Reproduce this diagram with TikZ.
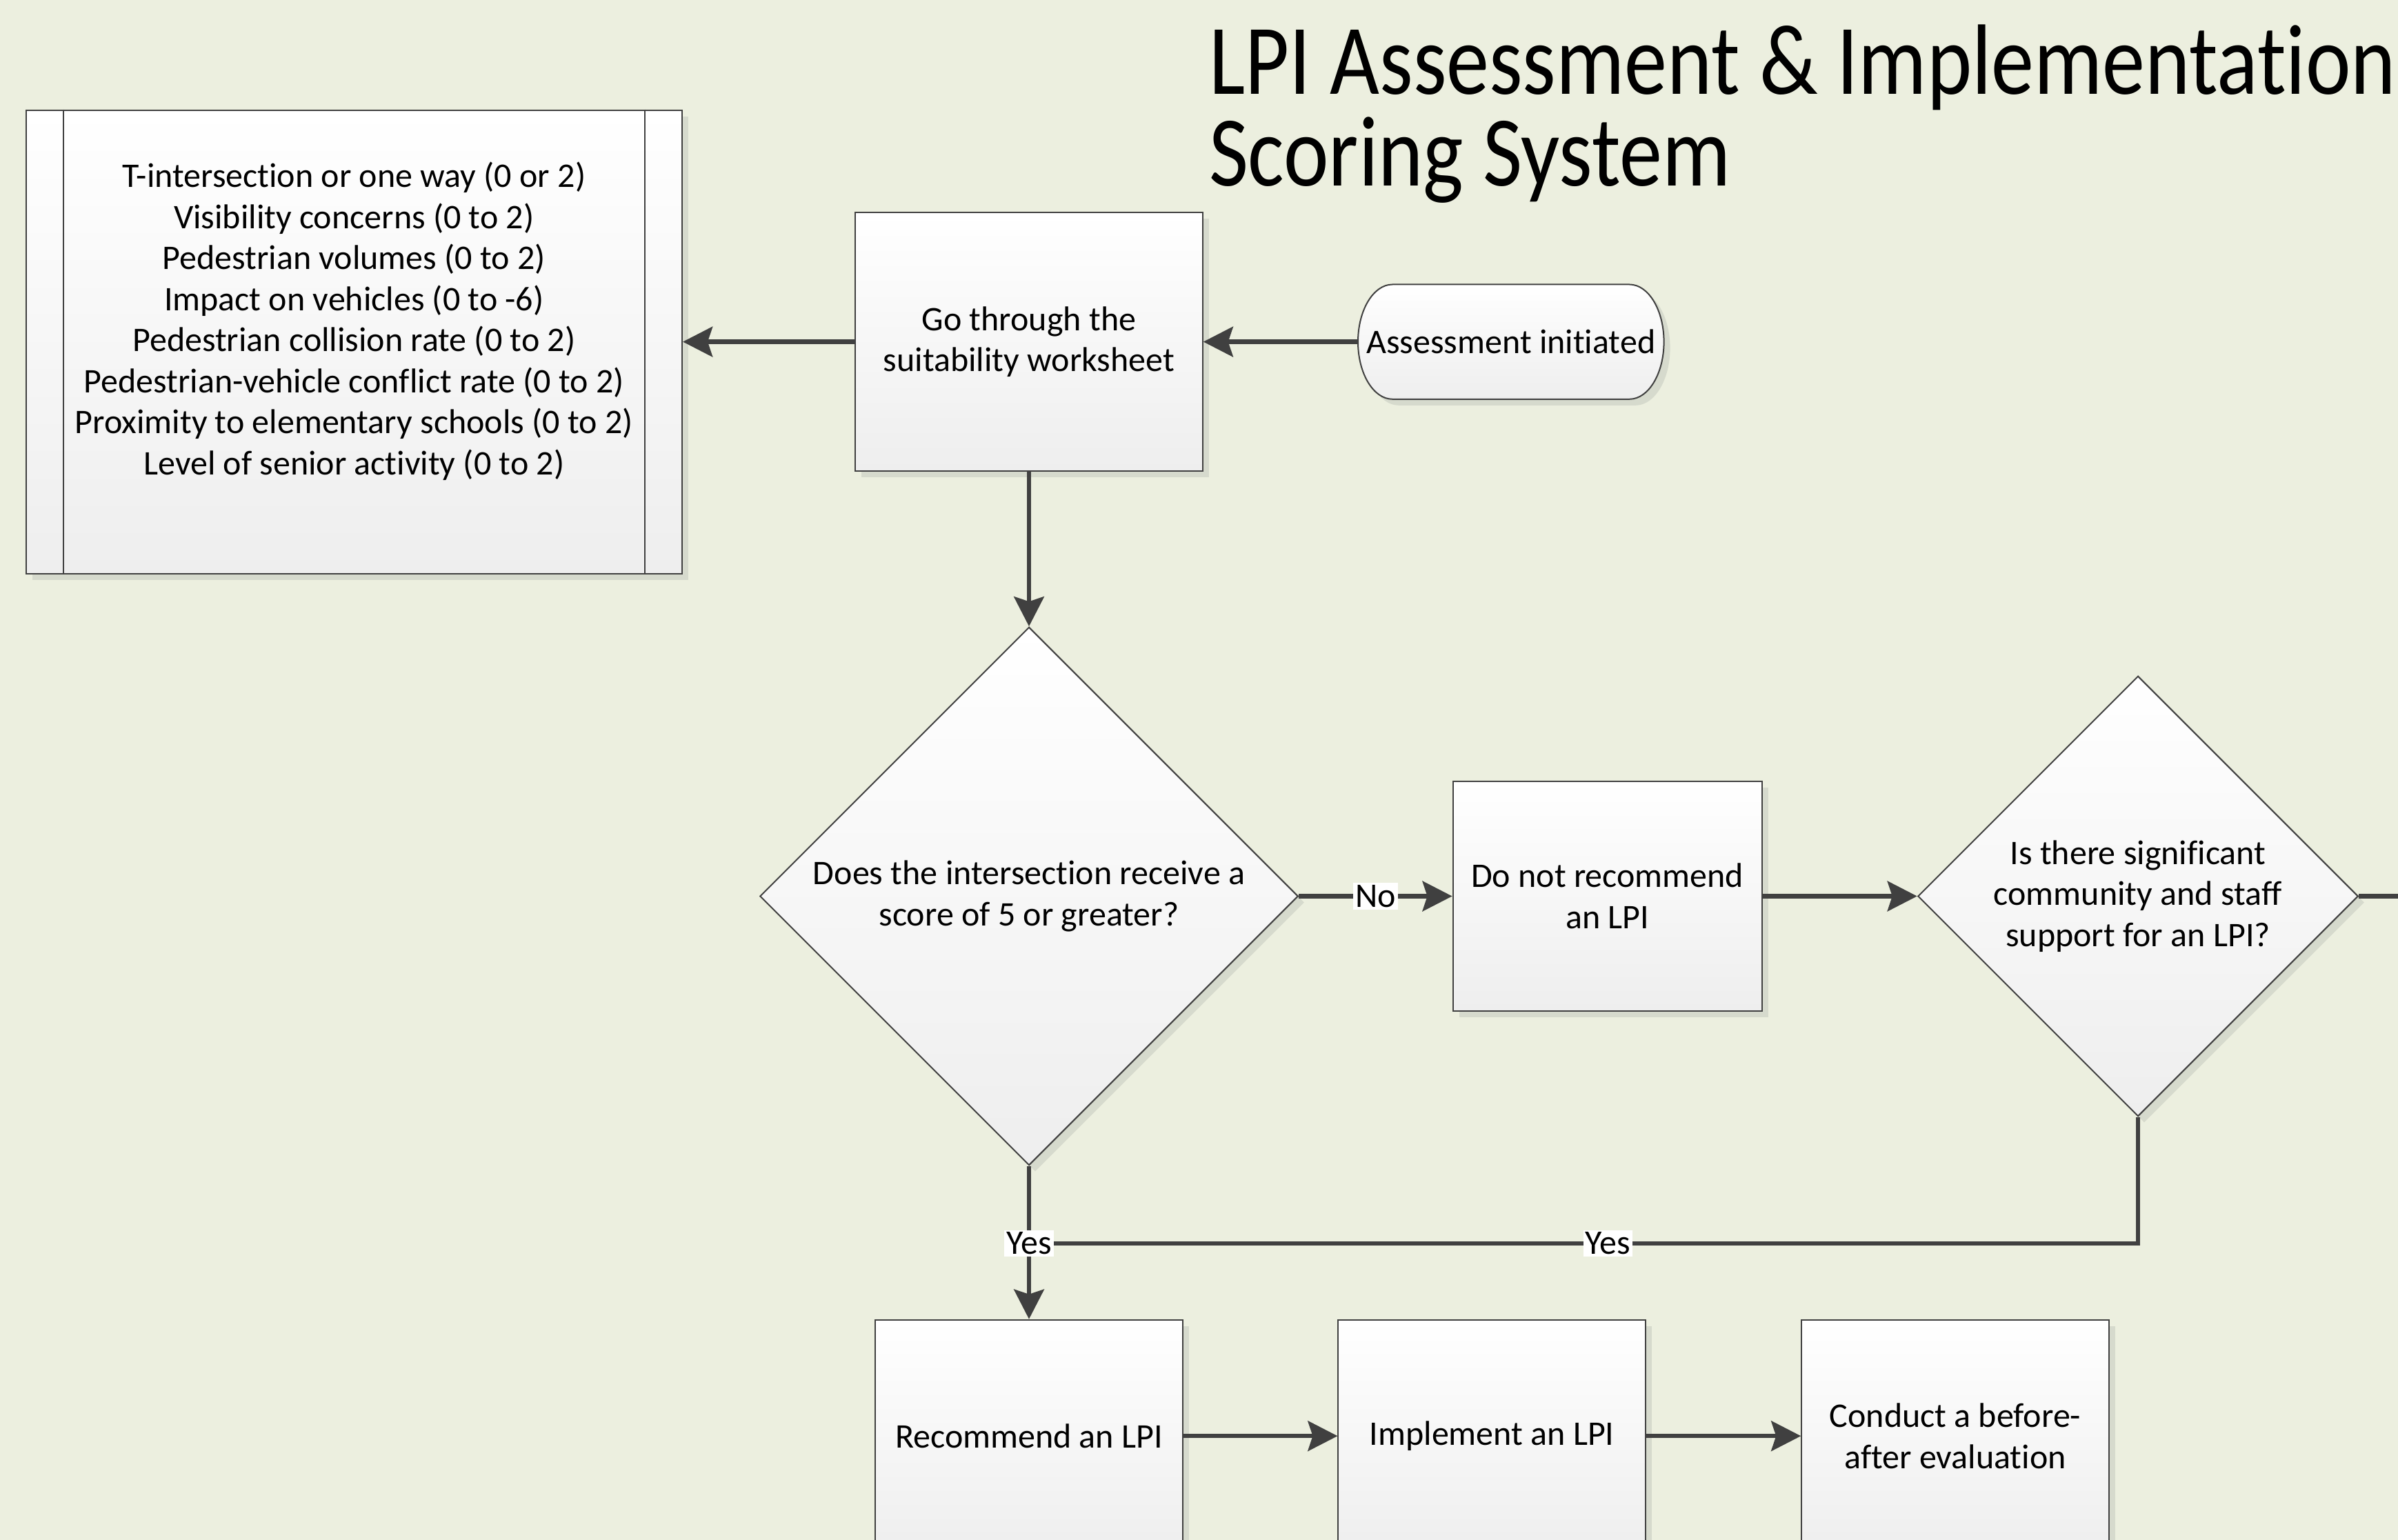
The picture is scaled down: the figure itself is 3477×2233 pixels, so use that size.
\documentclass[tikz,border=0pt]{standalone}
\usepackage{fontspec}
\setmainfont{Carlito}[Ligatures=NoCommon]
\usetikzlibrary{shapes.geometric,arrows.meta,shadows,calc}
\definecolor{bgc}{RGB}{236,239,223}
\definecolor{edgec}{RGB}{64,64,64}
\definecolor{shd}{RGB}{214,218,205}
\definecolor{botc}{RGB}{238,238,238}
\newcommand\lpibody{\fontsize{10pt}{11.9pt}\selectfont}
\newcommand\lpititle{\fontsize{29pt}{30pt}\selectfont}
\begin{document}
\begin{tikzpicture}[x=0.2pt,y=-0.2pt,
  shp/.style={draw=edgec, line width=0.4pt, top color=white, bottom color=botc,
    drop shadow={shadow xshift=1.8pt,shadow yshift=-1.8pt,fill=shd,opacity=1}},
  box/.style={shp, align=center, inner sep=2pt, font=\lpibody},
  dec/.style={shp, shape=diamond, aspect=1, align=center, inner sep=0pt, font=\lpibody},
  conn/.style={draw=edgec, line width=1.3pt},
  arr/.style={conn, -{Stealth[length=8.6pt,width=8.7pt,inset=1.4pt]}},
  lbl/.style={fill=white, inner sep=0.6pt, font=\lpibody, text=black}]
\clip (0,0) rectangle (3477,2233);
\fill[bgc] (0,0) rectangle (3477,2233);

% title
\node[anchor=base west, inner sep=0pt, font=\lpititle] (t1) at (1752,137) {\scalebox{0.856}[1]{LPI Assessment \& Implementation}};
\node[anchor=base west, inner sep=0pt, font=\lpititle] (t2) at (1752,270) {\scalebox{0.856}[1]{Scoring System}};

% criteria box (predefined process)
\node[shp, minimum width=190.3pt, minimum height=134.4pt, inner sep=0pt] (crit) at (513.3,495.6) {};
\draw[draw=edgec, line width=0.4pt] ($(crit.north west)+(55.4,0)$) -- ($(crit.south west)+(55.4,0)$);
\draw[draw=edgec, line width=0.4pt] ($(crit.north east)+(-55.4,0)$) -- ($(crit.south east)+(-55.4,0)$);
\node[align=center, font=\lpibody, inner sep=0pt] (crittxt) at (513.3,465.7) {T-intersection or one way (0 or 2)\\Visibility concerns (0 to 2)\\Pedestrian volumes (0 to 2)\\Impact on vehicles (0 to -6)\\Pedestrian collision rate (0 to 2)\\Pedestrian-vehicle conflict rate (0 to 2)\\Proximity to elementary schools (0 to 2)\\Level of senior activity (0 to 2)};

% go through
\node[box, minimum width=100.7pt, minimum height=75pt] (go) at (1492,495.6) {Go through the\\suitability worksheet};

% start terminator
\path[shp] (2019,412.5) -- (2362.6,412.5) arc[start angle=90,end angle=-90,x radius=10pt,y radius=16.63pt] -- (2019,578.8) arc[start angle=270,end angle=90,x radius=10pt,y radius=16.63pt] -- cycle;
\node[font=\lpibody, minimum width=88.7pt, minimum height=33.3pt, inner sep=0pt] (start) at (2190.8,495.6) {Assessment initiated};

% decision 1
\node[dec, minimum width=156.1pt, minimum height=156.1pt] (d1) at (1492,1299.5) {Does the intersection receive a\\score of 5 or greater?};

% do not recommend
\node[box, minimum width=89.6pt, minimum height=66.5pt] (norec) at (2330.6,1299.5) {Do not recommend\\an LPI};

% decision 2
\node[dec, minimum width=127.7pt, minimum height=127.7pt] (d2) at (3100,1299.5) {Is there significant\\community and staff\\support for an LPI?};

% bottom row
\node[box, minimum width=89.1pt, minimum height=67.4pt] (rec) at (1492,2082.2) {Recommend an LPI};
\node[box, minimum width=89.1pt, minimum height=67.4pt] (impl) at (2163.2,2082.2) {Implement an LPI};
\node[box, minimum width=89.1pt, minimum height=67.4pt] (cond) at (2835,2082.2) {Conduct a before-\\after evaluation};

\coordinate (J) at (1492,1802.8);
\coordinate (exitR) at (3477,1299.5);

% connectors
\draw[arr] (start.west) -- (go.east);
\draw[arr] (go.west) -- (crit.east);
\draw[arr] (go.south) -- (d1.north);
\draw[arr] (d1.east) -- node[lbl, pos=0.5] {No} (norec.west);
\draw[arr] (norec.east) -- (d2.west);
\draw[conn] (d2.east) -- (exitR);
\draw[conn] (d2.south) -- (d2.south |- J) -- node[lbl, pos=0.478] {Yes} (J);
\draw[arr] (d1.south) -- node[lbl, pos=0.505] {Yes} (rec.north);
\draw[arr] (rec.east) -- (impl.west);
\draw[arr] (impl.east) -- (cond.west);
\end{tikzpicture}
\end{document}
